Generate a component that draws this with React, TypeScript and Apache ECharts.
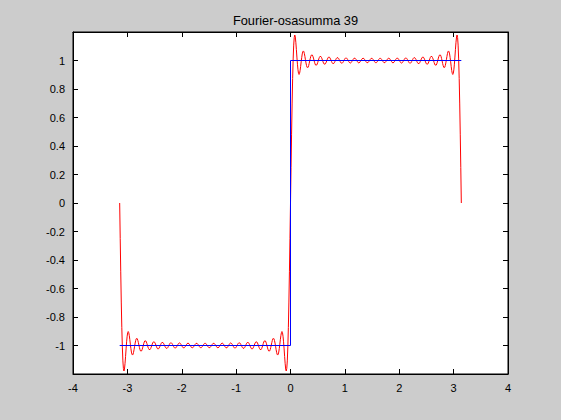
import React, { useEffect, useRef } from "react";
import * as echarts from "echarts";

// Title and axis setup
const TITLE = "Fourier-osasumma 39";
const X_TICKS_MIN = -4;
const X_TICKS_MAX = 4;
const Y_MIN = -1.2;
const Y_MAX = 1.2;

// Square wave (blue)
const squareX = [-Math.PI, 0, 0, Math.PI];
const squareY = [-1, -1, 1, 1];

// Partial sum (red), values in thousandths, sampled evenly over [-pi, 0] and [0, pi]
const redNegMilli = [
  -0, -248, -483, -695, -873, -1011, -1108, -1162, -1179, -1165,
  -1128, -1078, -1024, -974, -935, -910, -902, -910, -930, -959,
  -991, -1021, -1046, -1061, -1067, -1062, -1048, -1028, -1005, -983,
  -965, -953, -949, -953, -964, -979, -997, -1014, -1029, -1038,
  -1041, -1038, -1029, -1017, -1002, -988, -976, -968, -965, -968,
  -975, -986, -999, -1011, -1021, -1028, -1030, -1028, -1022, -1012,
  -1001, -990, -981, -975, -973, -975, -981, -989, -999, -1009,
  -1017, -1023, -1024, -1023, -1017, -1010, -1001, -992, -984, -979,
  -978, -979, -984, -991, -1000, -1008, -1015, -1019, -1021, -1019,
  -1015, -1008, -1000, -993, -986, -982, -980, -982, -986, -992,
  -1000, -1007, -1013, -1017, -1019, -1017, -1013, -1007, -1000, -993,
  -987, -984, -982, -984, -987, -993, -1000, -1006, -1012, -1016,
  -1017, -1016, -1012, -1007, -1000, -994, -988, -985, -983, -985,
  -988, -994, -1000, -1006, -1012, -1015, -1016, -1015, -1012, -1006,
  -1000, -994, -989, -985, -984, -985, -989, -994, -1000, -1006,
  -1011, -1015, -1016, -1015, -1011, -1006, -1000, -994, -989, -985,
  -984,
  -985, -989, -994, -1000, -1006, -1011, -1015, -1016, -1015, -1011,
  -1006, -1000, -994, -989, -985, -984, -985, -989, -994, -1000,
  -1006, -1012, -1015, -1016, -1015, -1012, -1006, -1000, -994, -988,
  -985, -983, -985, -988, -994, -1000, -1007, -1012, -1016, -1017,
  -1016, -1012, -1006, -1000, -993, -987, -984, -982, -984, -987,
  -993, -1000, -1007, -1013, -1017, -1019, -1017, -1013, -1007, -1000,
  -992, -986, -982, -980, -982, -986, -993, -1000, -1008, -1015,
  -1019, -1021, -1019, -1015, -1008, -1000, -991, -984, -979, -978,
  -979, -984, -992, -1001, -1010, -1017, -1023, -1024, -1023, -1017,
  -1009, -999, -989, -981, -975, -973, -975, -981, -990, -1001,
  -1012, -1022, -1028, -1030, -1028, -1021, -1011, -999, -986, -975,
  -968, -965, -968, -976, -988, -1002, -1017, -1029, -1038, -1041,
  -1038, -1029, -1014, -997, -979, -964, -953, -949, -953, -965,
  -983, -1005, -1028, -1048, -1062, -1067, -1061, -1046, -1021, -991,
  -959, -930, -910, -902, -910, -935, -974, -1024, -1078, -1128,
  -1165, -1179, -1162, -1108, -1011, -873, -695, -483, -248, 0,
];

const redPosMilli = [
  0, 248, 483, 695, 873, 1011, 1108, 1162, 1179, 1165,
  1128, 1078, 1024, 974, 935, 910, 902, 910, 930, 959,
  991, 1021, 1046, 1061, 1067, 1062, 1048, 1028, 1005, 983,
  965, 953, 949, 953, 964, 979, 997, 1014, 1029, 1038,
  1041, 1038, 1029, 1017, 1002, 988, 976, 968, 965, 968,
  975, 986, 999, 1011, 1021, 1028, 1030, 1028, 1022, 1012,
  1001, 990, 981, 975, 973, 975, 981, 989, 999, 1009,
  1017, 1023, 1024, 1023, 1017, 1010, 1001, 992, 984, 979,
  978, 979, 984, 991, 1000, 1008, 1015, 1019, 1021, 1019,
  1015, 1008, 1000, 993, 986, 982, 980, 982, 986, 992,
  1000, 1007, 1013, 1017, 1019, 1017, 1013, 1007, 1000, 993,
  987, 984, 982, 984, 987, 993, 1000, 1006, 1012, 1016,
  1017, 1016, 1012, 1007, 1000, 994, 988, 985, 983, 985,
  988, 994, 1000, 1006, 1012, 1015, 1016, 1015, 1012, 1006,
  1000, 994, 989, 985, 984, 985, 989, 994, 1000, 1006,
  1011, 1015, 1016, 1015, 1011, 1006, 1000, 994, 989, 985,
  984,
  985, 989, 994, 1000, 1006, 1011, 1015, 1016, 1015, 1011,
  1006, 1000, 994, 989, 985, 984, 985, 989, 994, 1000,
  1006, 1012, 1015, 1016, 1015, 1012, 1006, 1000, 994, 988,
  985, 983, 985, 988, 994, 1000, 1007, 1012, 1016, 1017,
  1016, 1012, 1006, 1000, 993, 987, 984, 982, 984, 987,
  993, 1000, 1007, 1013, 1017, 1019, 1017, 1013, 1007, 1000,
  992, 986, 982, 980, 982, 986, 993, 1000, 1008, 1015,
  1019, 1021, 1019, 1015, 1008, 1000, 991, 984, 979, 978,
  979, 984, 992, 1001, 1010, 1017, 1023, 1024, 1023, 1017,
  1009, 999, 989, 981, 975, 973, 975, 981, 990, 1001,
  1012, 1022, 1028, 1030, 1028, 1021, 1011, 999, 986, 975,
  968, 965, 968, 976, 988, 1002, 1017, 1029, 1038, 1041,
  1038, 1029, 1014, 997, 979, 964, 953, 949, 953, 965,
  983, 1005, 1028, 1048, 1062, 1067, 1061, 1046, 1021, 991,
  959, 930, 910, 902, 910, 935, 974, 1024, 1078, 1128,
  1165, 1179, 1162, 1108, 1011, 873, 695, 483, 248, 0,
];

const FONT = "'Liberation Sans', Arial, Helvetica, sans-serif";

export default function App() {
  const ref = useRef<HTMLDivElement>(null);

  useEffect(() => {
    if (!ref.current) return;
    const chart = echarts.init(ref.current, undefined, { renderer: "svg" });

    const redData: [number, number][] = [];
    const nNeg = redNegMilli.length - 1;
    redNegMilli.forEach((v, i) => {
      redData.push([-Math.PI + (i * Math.PI) / nNeg, v / 1000]);
    });
    const nPos = redPosMilli.length - 1;
    redPosMilli.forEach((v, i) => {
      if (i === 0) return;
      redData.push([(i * Math.PI) / nPos, v / 1000]);
    });
    const blueData = squareX.map((x, i) => [x, squareY[i]]);

    const tickStyle = { show: true, inside: true, length: 5, lineStyle: { color: "#000", width: 1 } };
    const lineStyle = { show: true, lineStyle: { color: "#000", width: 1 } };

    chart.setOption({
      animation: false,
      backgroundColor: "#cccccc",
      title: {
        text: TITLE,
        left: 290.5,
        top: 9,
        textAlign: "center",
        textStyle: { fontFamily: FONT, fontSize: 12.8, fontWeight: "normal", color: "#000" },
      },
      grid: {
        left: 73,
        right: 53,
        top: 32,
        bottom: 46,
        show: true,
        backgroundColor: "#ffffff",
        borderColor: "#000",
        borderWidth: 1,
      },
      xAxis: [
        {
          type: "value",
          position: "bottom",
          min: X_TICKS_MIN,
          max: X_TICKS_MAX,
          interval: 1,
          axisLine: { ...lineStyle, onZero: false },
          axisTick: tickStyle,
          splitLine: { show: false },
          axisLabel: { color: "#000", fontFamily: FONT, fontSize: 11, margin: 8 },
        },
        {
          type: "value",
          position: "top",
          min: X_TICKS_MIN,
          max: X_TICKS_MAX,
          interval: 1,
          axisLine: { ...lineStyle, onZero: false },
          axisTick: tickStyle,
          splitLine: { show: false },
          axisLabel: { show: false },
        },
      ],
      yAxis: [
        {
          type: "value",
          position: "left",
          min: Y_MIN,
          max: Y_MAX,
          interval: 0.2,
          axisLine: { ...lineStyle, onZero: false },
          axisTick: tickStyle,
          splitLine: { show: false },
          axisLabel: {
            color: "#000",
            fontFamily: FONT,
            fontSize: 11,
            margin: 8,
            showMinLabel: false,
            showMaxLabel: false,
            formatter: (v: number) => String(Math.round(v * 10) / 10),
          },
        },
        {
          type: "value",
          position: "right",
          min: Y_MIN,
          max: Y_MAX,
          interval: 0.2,
          axisLine: { ...lineStyle, onZero: false },
          axisTick: tickStyle,
          splitLine: { show: false },
          axisLabel: { show: false },
        },
      ],
      series: [
        {
          type: "line",
          name: "Fourier",
          data: redData,
          xAxisIndex: 0,
          yAxisIndex: 0,
          showSymbol: false,
          symbol: "none",
          lineStyle: { color: "#ff0000", width: 1 },
          z: 2,
        },
        {
          type: "line",
          name: "square",
          data: blueData,
          xAxisIndex: 0,
          yAxisIndex: 0,
          showSymbol: false,
          symbol: "none",
          lineStyle: { color: "#0000ff", width: 1 },
          z: 3,
        },
      ],
    });

    return () => chart.dispose();
  }, []);

  return (
    <div
      ref={ref}
      style={{ position: "fixed", left: 0, top: 0, width: 561, height: 420 }}
    />
  );
}
